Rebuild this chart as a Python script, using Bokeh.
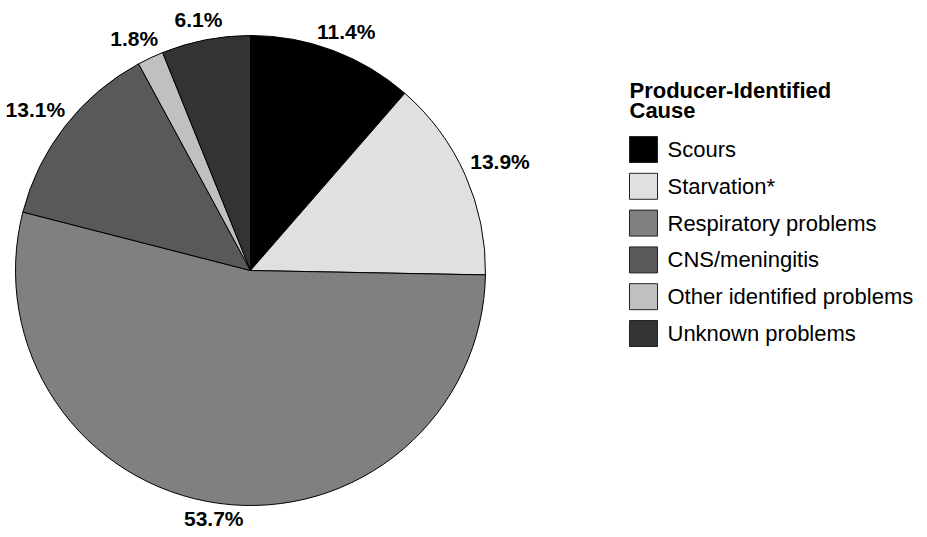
import numpy as np
from bokeh.plotting import figure
from bokeh.models import Range1d, ColumnDataSource
from bokeh.core.properties import value
from bokeh.embed import file_html
from bokeh.resources import INLINE

# ---- data ----
causes = ["Scours", "Starvation*", "Respiratory problems", "CNS/meningitis",
          "Other identified problems", "Unknown problems"]
percents = [11.4, 13.9, 53.7, 13.1, 1.8, 6.1]
colors = ["#000000", "#e0e0e0", "#808080", "#595959", "#c0c0c0", "#333333"]
legend_title = ["Producer-Identified", "Cause"]

W, H = 919, 529
FONT = "Liberation Sans"

p = figure(width=W, height=H, output_backend="svg", toolbar_location=None,
           x_range=Range1d(0, W), y_range=Range1d(537 - H, 537),
           min_border=0, outline_line_color=None)
p.axis.visible = False
p.grid.visible = False
p.background_fill_color = "white"


def sy(y):
    return 537 - y


cx, cy, R = 250, sy(270), 235
vals = np.array(percents)
frac = vals / vals.sum()
cum = np.concatenate([[0], np.cumsum(frac)])
start = np.pi / 2 - 2 * np.pi * cum[1:]
end = np.pi / 2 - 2 * np.pi * cum[:-1]
mid = (start + end) / 2

src = ColumnDataSource(dict(start=start, end=end, color=colors))
p.wedge(x=cx, y=cy, radius=R, start_angle="start", end_angle="end",
        direction="anticlock", fill_color="color", line_color="black",
        line_width=1, source=src)

# percent labels: anchor just outside the rim, pushed outward by text size
anchor = R + 10
lx = cx + anchor * np.cos(mid) + 28 * np.cos(mid)
ly = cy + anchor * np.sin(mid) + 10 * np.sign(np.sin(mid))
ly = np.maximum(ly, (537 - H) + 11)
labels = [f"{v:.1f}%" for v in percents]
p.text(x=lx, y=ly, text=labels, text_align="center", text_baseline="middle",
       text_font=value(FONT), text_font_style="bold", text_font_size="21px",
       text_color="black")

# legend
p.text(x=[629, 629], y=[sy(90), sy(110)], text=legend_title,
       text_align="left", text_baseline="middle", text_font=value(FONT),
       text_font_style="bold", text_font_size="22px", text_color="black")
ys = np.array([sy(149 + i * 36.8) for i in range(len(causes))])
p.rect(x=[643] * len(causes), y=ys, width=28, height=26, fill_color=colors,
       line_color="#222222", line_width=1)
p.text(x=[667] * len(causes), y=ys, text=causes, text_align="left",
       text_baseline="middle", text_font=value(FONT), text_font_size="22px",
       text_color="black")

open("out.html", "w").write(file_html(p, INLINE))
